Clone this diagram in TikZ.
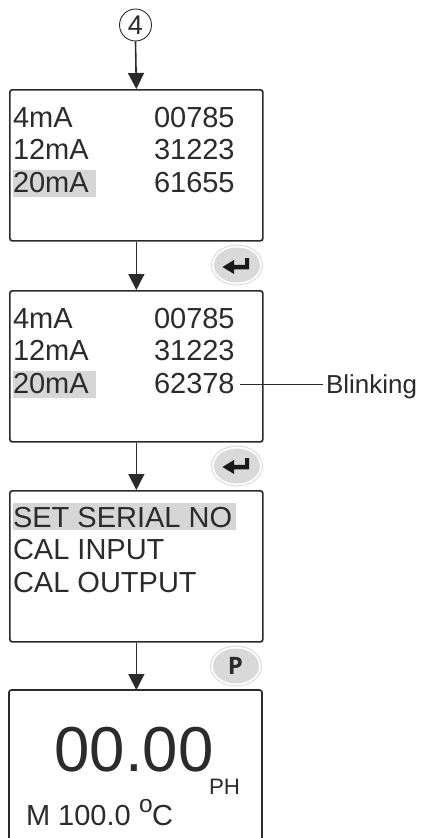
\documentclass[tikz,border=0pt]{standalone}
\usepackage{fontspec}
\setmainfont{Liberation Sans}
\newfontfamily\keyfont{Open Sans}
\usetikzlibrary{arrows.meta}
\definecolor{ink}{HTML}{2B2B2B}
\definecolor{hl}{HTML}{D6D6D6}
\tikzset{
  x=1pt,y=-1pt,
  screen/.style={draw=ink,line width=1.7pt,rounded corners=2.5pt},
  flow/.style={draw=ink,line width=1.6pt,-{Triangle[length=16pt,width=16pt]}},
  txt/.style={inner sep=0pt,outer sep=0pt,anchor=base west,text=ink,font=\fontsize{29}{29}\selectfont},
  keyring/.style={draw=black!14,line width=1pt,fill=white},
  keyface/.style={fill=black!15,draw=none}
}
\newcommand{\retglyph}[2]{%
  \fill[black!90] (#1-13.5,#2) -- (#1-2,#2-7) -- (#1-2,#2-2.2) -- (#1+9,#2-2.2) -- (#1+9,#2-9) -- (#1+13,#2-9) -- (#1+13,#2+2.4) -- (#1-2,#2+2.4) -- (#1-2,#2+7) -- cycle;}
\newcommand{\keyblob}[2]{%
  \draw[keyring] (#1,#2) ellipse (25.5 and 20);
  \fill[keyface] (#1,#2) ellipse (23 and 17.5);}
\begin{document}
\begin{tikzpicture}
\useasboundingbox (0,0) rectangle (425,838);
% highlights
\fill[hl] (13,170) rectangle (96,197);
\fill[hl] (13,371) rectangle (96,398);
\fill[hl] (13,503) rectangle (236,530);
% screens
\node[screen,minimum width=253pt,minimum height=151pt,inner sep=0pt,anchor=north west] (s1) at (9,89) {};
\node[screen,minimum width=253pt,minimum height=151pt,inner sep=0pt,anchor=north west] (s2) at (9,290) {};
\node[screen,minimum width=253pt,minimum height=151pt,inner sep=0pt,anchor=north west] (s3) at (9,490) {};
\draw[screen] (9,842) -- (9,690) -- (262,690) -- (262,842);
\coordinate (s4top) at (s3.south|-0,690);
% circled 4
\node[circle,draw=ink,line width=0.9pt,minimum size=32pt,inner sep=0pt,text=ink,font=\fontsize{27}{27}\selectfont] (c4) at (135.5,25) {4};
% arrows
\draw[flow] (c4.south) -- (s1.north);
\draw[flow] (s1.south) -- (s2.north);
\draw[flow] (s2.south) -- (s3.north);
\draw[flow] (s3.south) -- (s4top);
% texts 1
\node[txt] at (13,127) {4mA};\node[txt] at (154,127) {00785};
\node[txt] at (13,159) {12mA};\node[txt] at (154,159) {31223};
\node[txt] at (13,192) {20mA};\node[txt] at (154,192) {61655};
% texts 2
\node[txt] at (13,328) {4mA};\node[txt] at (154,328) {00785};
\node[txt] at (13,360) {12mA};\node[txt] at (154,360) {31223};
\node[txt] at (13,393) {20mA};\node[txt] (val) at (154,393) {62378};
\node[txt,font=\fontsize{26}{26}\selectfont] (blink) at (326,393) {Blinking};
\coordinate (la) at (240,384);
\coordinate (lb) at (323,384);
\draw[ink,line width=1pt] (la) -- (lb);
% texts 3
\node[txt] at (13,527) {SET SERIAL NO};
\node[txt] at (13,559) {CAL INPUT};
\node[txt] at (13,592) {CAL OUTPUT};
% texts 4
\node[txt,font=\fontsize{63.5}{64}\selectfont] at (54.5,771) {00.00};
\node[txt,font=\fontsize{22.3}{23}\selectfont] at (209,794) {PH};
\node[txt] at (26,825) {M 100.0};
\node[txt,font=\fontsize{24.5}{25}\selectfont] at (139,812) {o};
\node[txt] at (152,825) {C};
% keys
\keyblob{237}{265}
\retglyph{236}{267}
\keyblob{237}{466}
\retglyph{236}{467}
\keyblob{236}{666}
\node[inner sep=0pt,font=\keyfont\bfseries\fontsize{24}{24}\selectfont,text=ink] (p) at (235.5,666) {P};
\end{tikzpicture}
\end{document}
